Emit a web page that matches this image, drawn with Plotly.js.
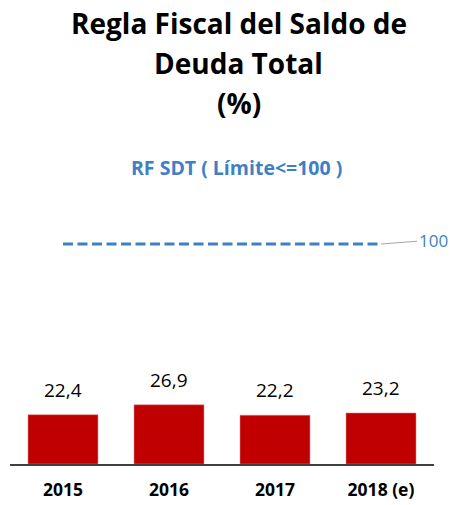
<!DOCTYPE html>
<html>
<head>
<meta charset="utf-8">
<script src="https://cdn.plot.ly/plotly-3.0.1.min.js"></script>
<style>html,body{margin:0;padding:0;background:#fff;}#chart{width:450px;height:505px;}</style>
</head>
<body>
<div id="chart"></div>
<script>
const categories = ['2015', '2016', '2017', '2018 (e)'];
const deudaValues = [22.4, 26.9, 22.2, 23.2];
const limiteValues = [100, 100, 100, 100];
const limiteLabel = 'RF SDT ( Límite<=100 )';
const titleLines = ['Regla Fiscal del Saldo de', 'Deuda Total', '(%)'];

const FONT = '"Open Sans", Lato, sans-serif';
const plotTop = 140, plotBottom = 464, plotH = plotBottom - plotTop;
const yMax = plotH / 2.2;
function paperY(px) { return (plotBottom - px) / plotH; }

const annotations = [];
const titleY = [23, 63, 103];
titleLines.forEach((t, i) => {
  annotations.push({
    text: t, xref: 'paper', yref: 'paper', x: 0.54, y: paperY(titleY[i]),
    xanchor: 'center', yanchor: 'middle', showarrow: false,
    font: {family: FONT, size: 28, color: '#000000', weight: 'bold'}
  });
});
annotations.push({
  text: limiteLabel, xref: 'paper', yref: 'paper', x: 0.535, y: paperY(167),
  xanchor: 'center', yanchor: 'middle', showarrow: false,
  font: {family: FONT, size: 19.5, color: '#3f7fc6', weight: 'bold'}
});
deudaValues.forEach((v, i) => {
  annotations.push({
    text: v.toFixed(1).replace('.', ','), x: i, y: v, xref: 'x', yref: 'y',
    xanchor: 'center', yanchor: 'bottom', yshift: 10, showarrow: false,
    font: {family: FONT, size: 19, color: '#000000'}
  });
});
const last = categories.length - 1;
annotations.push({
  text: String(limiteValues[last]), x: last, y: limiteValues[last], xref: 'x', yref: 'y',
  showarrow: true, arrowhead: 0, arrowwidth: 1, arrowcolor: '#a6a6a6',
  ax: 52, ay: -4, standoff: 0,
  font: {family: FONT, size: 17, color: '#3f7fc6'}
});

const traces = [
  {
    type: 'bar', x: categories, y: deudaValues, name: 'SDT',
    marker: {color: '#c00000', line: {color: '#e88080', width: 0.5}},
    hoverinfo: 'none'
  },
  {
    type: 'scatter', mode: 'lines', x: categories, y: limiteValues, name: limiteLabel,
    line: {color: '#3f7fc6', width: 3, dash: '10px,4.5px'},
    hoverinfo: 'none'
  }
];

const layout = {
  width: 450, height: 505,
  margin: {l: 10, r: 16, t: plotTop, b: 505 - plotBottom, pad: 0},
  paper_bgcolor: '#ffffff', plot_bgcolor: '#ffffff',
  showlegend: false,
  bargap: 0.34,
  xaxis: {
    type: 'category', range: [-0.5, categories.length - 0.5], autorange: false,
    showline: true, linecolor: '#404040', linewidth: 1.5,
    ticks: '', showgrid: false, zeroline: false, fixedrange: true,
    tickfont: {family: FONT, size: 17.5, color: '#000000', weight: 'bold'},
    ticklabelstandoff: 9
  },
  yaxis: {
    range: [0, yMax], autorange: false, visible: false, showgrid: false, zeroline: false, fixedrange: true
  },
  annotations: annotations
};

Plotly.newPlot('chart', traces, layout, {displayModeBar: false, staticPlot: true});
</script>
</body>
</html>
